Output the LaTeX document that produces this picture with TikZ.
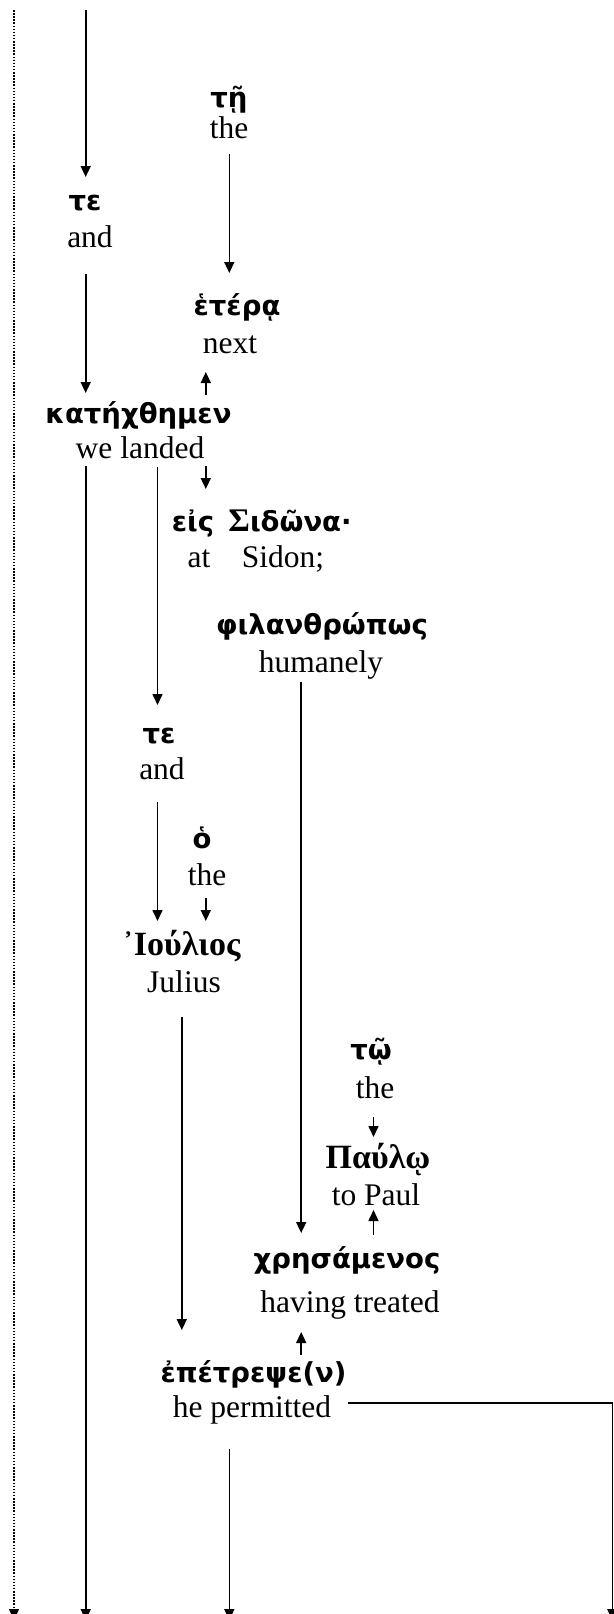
\documentclass[tikz,border=0pt]{standalone}
\usepackage{fontspec}
\setmainfont{Liberation Serif}
\newfontfamily\grsans{DejaVu Sans}
\newfontfamily\grserif{Liberation Serif}
\usetikzlibrary{arrows.meta,calc}
\tikzset{
  gk/.style={anchor=base, inner sep=0pt, font=\grsans\bfseries\fontsize{27.5}{32}\selectfont},
  gks/.style={anchor=base, inner sep=0pt, font=\grserif\bfseries\fontsize{34}{38}\selectfont},
  en/.style={anchor=base, inner sep=0pt, font=\fontsize{31.5}{36}\selectfont},
  link/.style={line width=1.6pt, -{Triangle[width=10pt,length=11pt]}},
  dotline/.style={line width=1.5pt, dash pattern=on 1.5pt off 1.6pt, -{Triangle[width=10pt,length=11pt]}}
}
\begin{document}
\begin{tikzpicture}[x=1pt,y=-1pt]
\useasboundingbox (0,0) rectangle (613,1614);
% columns
\coordinate (c14) at (14,0);
\coordinate (c86) at (85.7,0);
\coordinate (c157) at (157.5,0);
\coordinate (c182) at (181.8,0);
\coordinate (c206) at (205.8,0);
\coordinate (c229) at (229.3,0);
\coordinate (c301) at (301.2,0);
\coordinate (c373) at (373.5,0);
\coordinate (c612) at (612.3,0);
% free ends
\coordinate (topD) at (14,10);
\coordinate (topL) at (85.7,10);
\coordinate (botD) at (14,1620);
\coordinate (botL) at (85.7,1620);
\coordinate (botM) at (229.3,1620);
\coordinate (botR) at (612.3,1620);
% words
\node[gk] (gTe) at (229,107) {τῇ};
\node[en] (eThe) at (229,138) {the};
\node[gk] (gTe1) at (85,210) {τε};
\node[en] (eAnd1) at (90,247) {and};
\node[gk] (gEtera) at (237,315) {ἑτέρᾳ};
\node[en] (eNext) at (230,353) {next};
\node[gk] (gKat) at (138.5,423) {κατήχθημεν};
\node[en] (eLanded) at (140,458) {we landed};
\node[gk] (gEis) at (193,531) {εἰς};
\node[en] (eAt) at (199,567) {at};
\node[gk] (gSidona) at (290,531) {{\grserif\fontsize{33}{36}\selectfont Σ}ιδῶνα·};
\node[en] (eSidon) at (283,567) {Sidon;};
\node[gk] (gPhil) at (322,634) {φιλανθρώπως};
\node[en] (eHumanely) at (321,672) {humanely};
\node[gk] (gTe2) at (159,743) {τε};
\node[en] (eAnd2) at (162,779) {and};
\node[gk] (gHo) at (202,848) {ὁ};
\node[en] (eThe2) at (207,885) {the};
\node[gks] (gIoulios) at (181.5,955) {᾿Ιούλιος};
\node[en] (eJulius) at (184,992) {Julius};
\node[gk] (gTw) at (371,1059) {τῷ};
\node[en] (eThe3) at (375,1098) {the};
\node[gks] (gPaulw) at (378,1168) {Παύλῳ};
\node[en] (eToPaul) at (376,1205) {to Paul};
\node[gk] (gChrs) at (347,1268) {χρησάμενος};
\node[en] (eTreated) at (350,1312) {having treated};
\node[gk] (gEpet) at (253.5,1382) {ἐπέτρεψε(ν)};
\node[en] (ePermitted) at (252,1417) {he permitted};
% connectors
\draw[dotline] (topD) -- (botD);
\draw[link] (topL) -- ($(gTe1.base -| c86)+(0,-33)$);
\draw[link] ($(eThe.base -| c229)+(0,16)$) -- ($(gEtera.base -| c229)+(0,-42)$);
\draw[link] ($(eAnd1.base -| c86)+(0,27)$) -- ($(gKat.base -| c86)+(0,-30)$);
\draw[link] ($(gKat.base -| c206)+(0,-28)$) -- ($(eNext.base -| c206)+(0,19)$);
\draw[link] ($(eLanded.base -| c86)+(0,8)$) -- (botL);
\draw[link] ($(eLanded.base -| c157)+(0,9)$) -- ($(gTe2.base -| c157)+(0,-38)$);
\draw[link] ($(eLanded.base -| c206)+(0,8)$) -- ($(gEis.base -| c206)+(0,-42)$);
\draw[link] ($(eHumanely.base -| c301)+(0,10)$) -- ($(gChrs.base -| c301)+(0,-35)$);
\draw[link] ($(eAnd2.base -| c157)+(0,23)$) -- ($(gIoulios.base -| c157)+(0,-34)$);
\draw[link] ($(eThe2.base -| c206)+(0,13)$) -- ($(gIoulios.base -| c206)+(0,-34)$);
\draw[link] ($(eJulius.base -| c182)+(0,25)$) -- ($(gEpet.base -| c182)+(0,-52)$);
\draw[link] ($(eThe3.base -| c373)+(0,19)$) -- ($(gPaulw.base -| c373)+(0,-31)$);
\draw[link] ($(gChrs.base -| c373)+(0,-33)$) -- ($(eToPaul.base -| c373)+(0,5)$);
\draw[link] ($(gEpet.base -| c301)+(0,-27)$) -- ($(eTreated.base -| c301)+(0,20)$);
\draw[link] ($(ePermitted.base)+(96,-14)$) -| (botR);
\draw[link] ($(ePermitted.base -| c229)+(0,32)$) -- (botM);
\end{tikzpicture}
\end{document}
